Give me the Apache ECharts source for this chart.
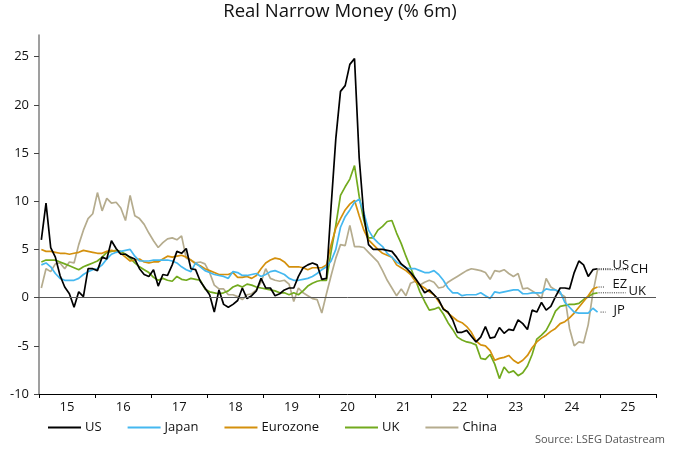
<!DOCTYPE html>
<html><head><meta charset="utf-8">
<script src="https://cdn.jsdelivr.net/npm/echarts@6/dist/echarts.min.js"></script>
<style>html,body{margin:0;padding:0;background:#fff}#c{width:680px;height:453px}</style>
</head><body><div id="c"></div>
<script>
const startYear = 2015;
const yearLabels = ['15','16','17','18','19','20','21','22','23','24','25'];
const yTicks = [-10,-5,0,5,10,15,20,25];

const us = [6.0,9.8,5.2,4.2,2.3,1.1,0.4,-1.0,0.6,0.1,3.0,3.0,
 2.8,4.2,4.0,5.9,5.1,4.5,4.5,4.2,4.0,3.0,2.4,2.2,
 2.9,1.2,2.4,2.3,3.4,4.8,4.6,5.1,3.0,2.9,1.7,1.0,
 0.3,-1.5,0.8,-0.7,-1.0,-0.7,-0.3,1.0,-0.1,0.2,0.7,2.0,
 1.0,1.0,0.2,0.4,0.8,1.0,1.0,2.2,3.1,3.4,3.6,3.4,
 1.9,2.0,9.5,16.5,21.4,22.0,24.2,24.8,14.5,8.5,5.5,5.0,
 5.0,5.0,4.9,4.8,4.2,3.5,3.1,2.6,2.0,1.3,0.5,0.8,
 0.3,-0.2,-1.2,-1.5,-2.3,-3.6,-3.6,-3.4,-4.0,-4.6,-4.1,-3.0,
 -4.2,-4.1,-3.1,-3.7,-3.3,-3.4,-2.3,-2.7,-3.3,-1.3,-1.5,-0.5,
 -1.3,-0.9,0.1,1.0,1.0,0.9,2.6,3.8,3.4,2.2,2.9,3.0];
const japan = [3.4,3.6,3.2,2.5,2.0,1.8,1.8,1.8,2.0,2.4,2.7,2.9,
 3.0,3.4,4.0,4.5,4.7,4.8,4.9,5.0,4.3,3.8,3.8,3.8,
 3.9,3.9,3.9,3.9,3.8,3.6,3.2,2.9,2.7,3.6,3.2,2.8,
 2.6,2.4,2.3,2.2,2.0,2.7,2.6,2.3,2.3,2.4,2.5,2.2,
 2.4,2.7,2.8,2.6,2.4,2.0,1.8,1.8,1.9,2.0,2.2,2.5,
 2.9,3.2,3.8,5.0,7.3,8.4,9.1,9.9,10.2,8.8,7.0,6.2,
 5.7,5.3,4.6,4.2,3.7,3.4,3.1,3.0,3.0,2.8,2.6,2.6,
 2.8,2.4,1.8,1.0,0.5,0.5,0.2,0.3,0.3,0.3,0.5,0.2,
 -0.1,0.6,0.5,0.6,0.7,0.8,0.8,0.4,0.4,0.5,0.5,0.5,
 0.9,0.8,0.8,0.6,-0.5,-1.0,-1.5,-1.6,-1.6,-1.6,-1.1,-1.5];
const eurozone = [5.0,4.8,4.8,4.7,4.6,4.6,4.5,4.6,4.7,4.9,4.8,4.7,
 4.6,4.6,4.8,4.9,4.8,4.6,4.2,3.8,3.9,4.0,3.7,3.6,
 3.7,3.7,4.0,4.3,4.2,4.3,4.4,4.2,3.9,3.5,3.3,3.0,
 2.8,2.6,2.4,2.4,2.4,2.6,2.1,2.1,2.2,2.0,2.3,3.0,
 3.6,3.9,4.1,4.0,3.7,3.2,3.2,3.2,3.1,2.9,3.1,3.1,
 3.1,3.4,5.5,7.2,8.2,9.1,9.7,10.1,8.5,7.0,6.0,5.5,
 5.0,4.6,4.4,4.2,3.4,3.1,2.8,2.4,1.7,1.3,1.0,0.6,
 0.3,-0.4,-1.1,-1.6,-2.0,-2.4,-2.6,-3.0,-3.6,-4.5,-4.9,-5.0,
 -5.5,-6.5,-6.3,-6.2,-6.0,-6.5,-6.8,-6.5,-6.0,-5.2,-4.6,-4.2,
 -3.9,-3.5,-3.2,-2.7,-2.5,-2.1,-1.6,-1.0,-0.4,0.2,0.9,1.1];
const uk = [3.7,3.9,3.9,3.9,3.7,3.5,3.3,3.1,2.9,3.2,3.4,3.6,
 3.8,4.2,4.7,4.8,4.9,4.8,4.5,4.1,3.6,3.2,2.9,2.6,
 2.1,1.8,2.0,1.8,1.7,2.2,1.9,1.8,2.0,1.9,1.8,0.9,
 0.6,0.5,0.4,0.5,0.7,1.1,1.3,1.1,1.4,1.3,1.1,1.0,
 0.9,0.8,0.7,0.5,0.5,0.3,0.5,0.3,0.7,1.2,1.5,1.7,
 1.8,1.8,4.8,7.5,10.6,11.5,12.3,13.7,10.5,8.0,6.2,6.2,
 7.0,7.4,7.9,8.0,6.7,5.6,4.3,3.1,1.9,0.6,-0.4,-1.3,
 -1.2,-1.0,-1.7,-2.6,-3.3,-4.1,-4.4,-4.6,-4.7,-4.9,-6.3,-6.4,
 -5.9,-6.9,-8.4,-7.2,-7.8,-7.6,-8.1,-7.8,-7.1,-5.9,-4.3,-3.9,
 -3.4,-2.5,-1.4,-0.9,-0.8,-0.7,-0.7,-0.6,-0.2,0.1,0.4,0.5];
const china = [1.0,3.0,2.7,3.5,3.6,3.0,3.7,3.6,5.5,7.0,8.2,8.7,
 10.9,9.0,10.3,9.8,9.9,9.3,8.0,10.6,8.5,8.2,7.6,6.7,
 5.9,5.2,5.7,6.1,6.2,6.0,6.4,4.1,3.9,3.6,3.7,3.5,
 2.6,1.3,0.9,0.9,0.3,0.3,0.1,-0.2,0.3,0.4,0.8,1.6,
 3.0,2.0,1.8,1.7,1.8,1.4,-0.4,1.0,0.5,0.2,-0.1,-0.2,
 -1.6,0.4,2.3,4.1,5.5,5.4,7.5,5.3,5.3,5.2,4.7,4.2,
 3.7,2.8,1.8,1.0,0.2,0.9,0.2,1.5,1.7,1.3,1.6,1.8,
 1.6,1.0,1.1,1.6,1.9,2.2,2.5,2.8,3.0,2.9,2.8,2.6,
 1.9,2.8,2.7,2.9,2.5,2.2,2.5,0.9,1.0,0.7,0.4,-0.1,
 2.0,1.1,0.8,0.4,0.1,-3.2,-5.0,-4.6,-4.7,-2.8,0.5,2.9];

const seriesNames = ['US','Japan','Eurozone','UK','China'];
const seriesData = {US: us, Japan: japan, Eurozone: eurozone, UK: uk, China: china};
const colors = {US:'#000000', Japan:'#45b8f0', Eurozone:'#d4900c', UK:'#72aa1e', China:'#b5ac8e'};
const endTags = [
  {name:'US', tag:'US', lead:[1,13], dx:15, dy:-3},
  {name:'China', tag:'CH', lead:[1,31], dx:33, dy:0},
  {name:'Eurozone', tag:'EZ', lead:[1,7], dx:15, dy:-3},
  {name:'UK', tag:'UK', lead:[1,28], dx:31, dy:-2},
  {name:'Japan', tag:'JP', lead:[3,8], dx:16, dy:-2}
];

const toPairs = arr => arr.map((v, i) => [startYear + (i + 0.5) / 12, v]);
const FONT = 'Open Sans';

const tickVals = yearLabels.map((_, i) => startYear + i).concat([startYear + yearLabels.length]);
const labelVals = yearLabels.map((_, i) => startYear + i + 0.5);

const drawOrder = ['China','UK','Eurozone','Japan','US'];
const series = drawOrder.map(n => ({
  name: n, type: 'line', data: toPairs(seriesData[n]), showSymbol: false, symbol: 'none',
  lineStyle: {color: colors[n], width: 1.7}, itemStyle: {color: colors[n]},
  emphasis: {disabled: true}, animation: false, z: 3
}));
series[0].markLine = {
  silent: true, symbol: 'none', animation: false,
  lineStyle: {color: '#555', width: 1, type: 'solid'}, label: {show: false},
  data: [{yAxis: 0}]
};

const chart = echarts.init(document.getElementById('c'), null, {renderer: 'canvas'});
chart.setOption({
  animation: false,
  backgroundColor: '#fff',
  textStyle: {fontFamily: FONT},
  title: {text: 'Real Narrow Money (% 6m)', left: 'center', top: -3,
    textStyle: {fontFamily: FONT, fontSize: 18.5, fontWeight: 'normal', color: '#111'}},
  grid: {left: 39, right: 24, top: 35, bottom: 59, containLabel: false},
  xAxis: {
    type: 'value', min: startYear, max: startYear + 11,
    axisLine: {show: true, onZero: false, lineStyle: {color: '#000', width: 1}},
    axisTick: {show: true, customValues: tickVals, length: 4, lineStyle: {color: '#000'}},
    axisLabel: {customValues: labelVals, margin: 7, fontSize: 13, color: '#111', fontFamily: FONT,
      formatter: v => yearLabels[Math.floor(v) - startYear] || ''},
    splitLine: {show: false}
  },
  yAxis: {
    type: 'value', min: -10, max: 27.25,
    axisLine: {show: true, onZero: false, lineStyle: {color: '#7f7f7f', width: 1.5}},
    axisTick: {show: true, customValues: yTicks, length: 5, lineStyle: {color: '#444'}},
    axisLabel: {customValues: yTicks, margin: 10, fontSize: 13, color: '#111', fontFamily: FONT},
    splitLine: {show: false}
  },
  legend: {
    data: seriesNames.map(n => ({name: n, icon: 'rect', itemStyle: {color: colors[n]}})),
    left: 43, top: 416, itemWidth: 33, itemHeight: 2, itemGap: 26,
    textStyle: {fontSize: 13, color: '#111', fontFamily: FONT, padding: [0, 0, 0, -1]}, selectedMode: false
  },
  series: series
});

const graphics = [];
endTags.forEach(t => {
  const arr = seriesData[t.name];
  const last = toPairs(arr)[arr.length - 1];
  const p = chart.convertToPixel({gridIndex: 0}, last);
  graphics.push({type: 'line', silent: true, z: 10,
    shape: {x1: p[0] + t.lead[0], y1: p[1], x2: p[0] + t.lead[1], y2: p[1]},
    style: {stroke: '#333', lineWidth: 1, lineDash: [1, 1.2]}});
  graphics.push({type: 'text', silent: true, z: 10, x: p[0] + t.dx, y: p[1] + t.dy,
    style: {text: t.tag, fontSize: 13, fontFamily: FONT, fill: '#111', verticalAlign: 'middle', align: 'left'}});
});
graphics.push({type: 'text', right: 15, top: 434, silent: true,
  style: {text: 'Source: LSEG Datastream', fontSize: 11, fontFamily: FONT, fill: '#555'}});
chart.setOption({graphic: graphics});
</script>
</body></html>
